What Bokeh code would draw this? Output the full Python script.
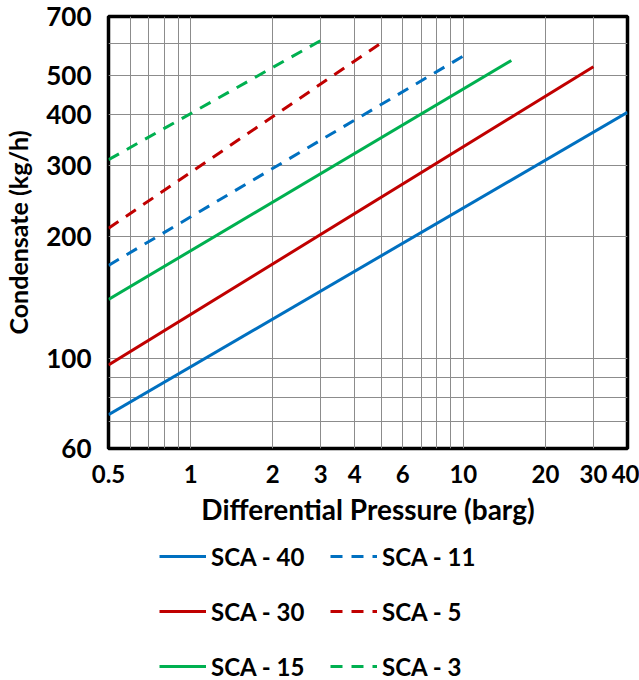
from bokeh.plotting import figure
from bokeh.layouts import column
from bokeh.models import FixedTicker, NumeralTickFormatter, Legend, LegendItem, Range1d
from bokeh.embed import file_html
from bokeh.resources import INLINE

# Differential pressure (barg) endpoints and condensate (kg/h) per trap model
sca40_dp = [0.5, 40]
sca40_q = [72.7, 406]
sca30_dp = [0.5, 30]
sca30_q = [96.5, 526]
sca15_dp = [0.5, 15]
sca15_q = [140, 545]
sca11_dp = [0.5, 10.4]
sca11_q = [170, 568]
sca5_dp = [0.5, 5.05]
sca5_q = [210, 605]
sca3_dp = [0.5, 3.03]
sca3_q = [310, 613]

x_labels = [0.5, 1, 2, 3, 4, 6, 10, 20, 30, 40]
x_grid = [0.5, 0.6, 0.7, 0.8, 0.9, 1, 2, 3, 4, 5, 6, 7, 8, 9, 10, 20, 30, 40]
y_labels = [60, 100, 200, 300, 400, 500, 700]
y_grid = [60, 70, 80, 90, 100, 200, 300, 400, 500, 600, 700]

DASH = "12 9"
series = [
    ("SCA - 40", sca40_dp, sca40_q, "#0070C0", "solid"),
    ("SCA - 11", sca11_dp, sca11_q, "#0070C0", DASH),
    ("SCA - 30", sca30_dp, sca30_q, "#C00000", "solid"),
    ("SCA - 5", sca5_dp, sca5_q, "#C00000", DASH),
    ("SCA - 15", sca15_dp, sca15_q, "#00B050", "solid"),
    ("SCA - 3", sca3_dp, sca3_q, "#00B050", DASH),
]
FONT = "Lato"

p = figure(width=639, height=532, x_axis_type="log", y_axis_type="log",
           x_range=Range1d(0.5, 40), y_range=Range1d(60, 700),
           output_backend="svg", toolbar_location=None,
           min_border_left=105, min_border_right=12, min_border_top=16, min_border_bottom=84)

p.outline_line_color = "black"
p.outline_line_width = 3.5
p.background_fill_color = "white"

for ax in (p.xaxis[0], p.yaxis[0]):
    ax.axis_line_color = None
    ax.major_tick_line_color = None
    ax.minor_tick_line_color = None
    ax.major_label_text_font = FONT
    ax.major_label_text_font_style = "bold"
    ax.major_label_text_color = "black"
    ax.axis_label_text_font = FONT
    ax.axis_label_text_font_style = "bold"
    ax.axis_label_text_color = "black"

p.xaxis.major_label_text_font_size = "24px"
p.yaxis.major_label_text_font_size = "26px"
p.xaxis.axis_label_text_font_size = "28px"
p.yaxis.axis_label_text_font_size = "25px"
p.xaxis.ticker = FixedTicker(ticks=x_labels)
p.yaxis.ticker = FixedTicker(ticks=y_labels)
p.xaxis.formatter = NumeralTickFormatter(format="0.[0]")
p.yaxis.formatter = NumeralTickFormatter(format="0")
p.xaxis.major_label_standoff = 10
p.yaxis.major_label_standoff = 11
p.xaxis.axis_label = "Differential Pressure (barg)"
p.yaxis.axis_label = "Condensate (kg/h)"
p.xaxis.axis_label_standoff = 6
p.yaxis.axis_label_standoff = 10

p.xgrid.ticker = FixedTicker(ticks=x_grid)
p.ygrid.ticker = FixedTicker(ticks=y_grid)
for g in (p.xgrid[0], p.ygrid[0]):
    g.grid_line_color = "#8c8c8c"
    g.grid_line_width = 1
    g.grid_line_alpha = 1

W = 3
for name, xs, ys, color, dash in series:
    p.line(xs, ys, line_color=color, line_width=W, line_dash=dash)

# legend panel below the chart (its lines lie outside its own view)
lg = figure(width=639, height=148, x_range=Range1d(-2, -1), y_range=Range1d(-2, -1),
            output_backend="svg", toolbar_location=None,
            x_axis_location=None, y_axis_location=None,
            min_border_left=0, min_border_right=0, min_border_top=0, min_border_bottom=0)
lg.outline_line_color = None
lg.xgrid.visible = False
lg.ygrid.visible = False

items = []
for name, xs, ys, color, dash in series:
    r = lg.line(xs, ys, line_color=color, line_width=W, line_dash=dash)
    items.append(LegendItem(label=name, renderers=[r]))

legend = Legend(items=items, orientation="horizontal", ncols=2, location=(51, -6))
legend.label_text_font = FONT
legend.label_text_font_style = "bold"
legend.label_text_font_size = "24px"
legend.label_text_color = "black"
legend.glyph_width = 47
legend.glyph_height = 40
legend.label_height = 40
legend.label_width = 104
legend.label_standoff = 5
legend.spacing = 15
legend.padding = 0
legend.margin = 0
legend.border_line_alpha = 0
legend.background_fill_alpha = 0
lg.add_layout(legend, "center")

open("out.html", "w").write(file_html(column(p, lg, spacing=0), INLINE))
